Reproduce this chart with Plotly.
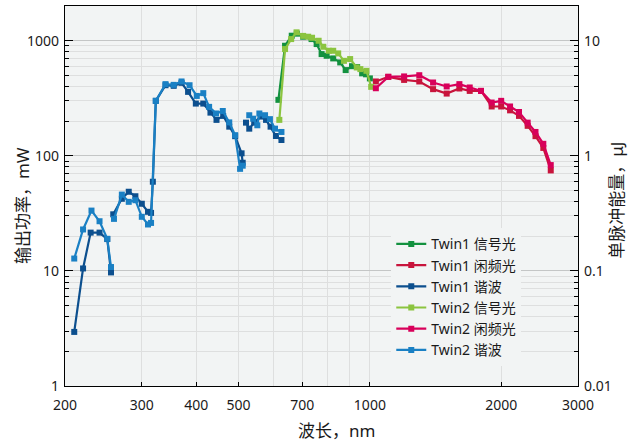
import plotly.graph_objects as go
import math

# ---- data (wavelength nm, power mW) ----
t1_sig_x = [617, 639, 662, 680, 703, 735, 755, 775, 796, 824, 855, 880, 910, 935, 960, 980, 1000]
t1_sig_y = [306, 903, 1104, 1150, 1082, 1032, 934, 764, 739, 701, 647, 555, 600, 590, 520, 510, 470]

t2_sig_x = [620, 639, 660, 679, 703, 722, 737, 763, 782, 805, 824, 846, 872, 901, 933, 951, 982, 1007]
t2_sig_y = [205, 845, 1032, 1181, 1100, 1082, 1060, 998, 885, 817, 817, 775, 668, 692, 585, 566, 547, 397]

idl_x = [1032, 1102, 1198, 1298, 1396, 1500, 1604, 1694, 1798, 1902, 2000, 2096, 2197, 2300, 2397, 2498, 2598]
t1_idl_y = [442, 485, 456, 442, 379, 347, 384, 366, 366, 268, 268, 248, 222, 182, 148, 117, 74.6]
t2_idl_y = [386, 485, 489, 501, 433, 400, 419, 392, 366, 290, 300, 268, 240, 194, 161, 127, 83]

t1_har_x = [210, 220, 229, 240, 250, 255, None,
            258, 270, 280, 290, 300, 310, 315, 318, 323, 340, 355, 370, 383, 399, 415, 431, 445, 461, 476, 491, 508, 511, None,
            520, 529, 543, 562, 578, 592, 609, 627]
t1_har_y = [2.95, 10.5, 21.5, 21.5, 18.9, 9.7, None,
            31, 42.3, 48.7, 44.5, 38.3, 32.6, 31.9, 59.5, 300, 410, 405, 430, 359, 284, 284, 237, 205, 222, 179, 148, 105, 87, None,
            194, 172, 194, 219, 205, 179, 148.5, 137]

t2_har_x = [210, 220, 230, 240, 250, 255, None,
            259, 270, 280, 290, 300, 310, 315, 323, 340, 355, 370, 386, 401, 415, 428, 444, 460, 476, 491, 504, 511, None,
            529, 540, 552, 558, 575, 590, 606, 627]
t2_har_y = [12.8, 22.9, 33.4, 27, 19, 10.8, None,
            28.3, 46, 39.8, 41.1, 29.5, 25.3, 26.1, 300, 419, 413, 442, 410, 331, 350, 266, 233, 245, 195, 151, 77, 82, None,
            225, 210, 184, 233, 225, 208, 172, 161]

names = ["Twin1 信号光", "Twin1 闲频光", "Twin1 谐波", "Twin2 信号光", "Twin2 闲频光", "Twin2 谐波"]
colors = ["#13913f", "#c8143c", "#0c4f8e", "#8bc43f", "#d8005a", "#1a80c4"]

x_tickvals = [200, 300, 400, 500, 700, 1000, 2000, 3000]
x_ticktext = ["200", "300", "400", "500", "700", "1000", "2000", "3000"]
x_minor = [600, 800, 900]
y_tickvals = [1, 10, 100, 1000]
y_ticktext = ["1", "10", "100", "1000"]
y_minor = [m * d for d in [1, 10, 100, 1000] for m in range(2, 10)]
y2_tickvals = [0.01, 0.1, 1, 10]
y2_ticktext = ["0.01", "0.1", "1", "10"]
y2_minor = [m * d for d in [0.01, 0.1, 1, 10] for m in range(2, 10)]

series = [(t1_sig_x, t1_sig_y), (idl_x, t1_idl_y), (t1_har_x, t1_har_y),
          (t2_sig_x, t2_sig_y), (idl_x, t2_idl_y), (t2_har_x, t2_har_y)]

fig = go.Figure()
for (xs, ys), n, c in zip(series, names, colors):
    fig.add_trace(go.Scatter(x=xs, y=ys, name=n, mode="lines+markers",
                             line=dict(color=c, width=2.2),
                             marker=dict(symbol="square", size=6, color=c),
                             connectgaps=False))
# empty trace so the right-hand energy axis is drawn
fig.add_trace(go.Scatter(x=[], y=[], yaxis="y2", showlegend=False, hoverinfo="skip"))

font_main = "Noto Sans, Noto Sans CJK SC, sans-serif"
grid_minor = "#dedfdf"
grid_major = "#c4c6c6"

fig.update_layout(
    width=635, height=445,
    margin=dict(l=65, r=57, t=6, b=59),
    paper_bgcolor="white", plot_bgcolor="#f2f4f4",
    font=dict(family=font_main, size=14, color="#1a1a1a"),
    showlegend=True,
    legend=dict(x=0.636, y=0.415, xanchor="left", yanchor="top",
                bgcolor="#f2f4f4", borderwidth=0, font=dict(size=14),
                tracegroupgap=0, itemwidth=30),
    xaxis=dict(type="log", range=[math.log10(200), math.log10(3000)],
               tickvals=x_tickvals, ticktext=x_ticktext,
               showgrid=True, gridcolor=grid_minor, gridwidth=1,
               ticks="inside", ticklen=4, tickcolor="black",
               showline=True, linecolor="black", linewidth=1.2, mirror=True,
               minor=dict(tickvals=x_minor, showgrid=True, gridcolor=grid_minor, ticks=""),
               ticklabelstandoff=6, zeroline=False),
    yaxis=dict(type="log", range=[0, math.log10(2000)],
               tickvals=y_tickvals, ticktext=y_ticktext,
               showgrid=True, gridcolor=grid_major, gridwidth=1,
               ticks="inside", ticklen=8, tickcolor="black",
               showline=True, linecolor="black", linewidth=1.2, mirror=False,
               minor=dict(tickvals=y_minor, showgrid=True, gridcolor=grid_minor,
                          ticks="inside", ticklen=4, tickcolor="black"),
               ticklabelstandoff=2, zeroline=False),
    yaxis2=dict(type="log", range=[-2, math.log10(20)], overlaying="y", side="right",
                tickvals=y2_tickvals, ticktext=y2_ticktext,
                showgrid=False, ticks="inside", ticklen=8, tickcolor="black",
                showline=True, linecolor="black", linewidth=1.2,
                minor=dict(tickvals=y2_minor, ticks="inside", ticklen=4, tickcolor="black", showgrid=False),
                ticklabelstandoff=2, zeroline=False),
    annotations=[
        dict(text="波长，nm", xref="paper", yref="paper", x=0.53, y=-0.116,
             xanchor="center", yanchor="middle", showarrow=False, font=dict(size=17)),
        dict(text="输出功率，mW", xref="paper", yref="paper", x=-0.084, y=0.476,
             xanchor="center", yanchor="middle", showarrow=False, textangle=-90, font=dict(size=17)),
        dict(text="单脉冲能量，μJ", xref="paper", yref="paper", x=1.076, y=0.49,
             xanchor="center", yanchor="middle", showarrow=False, textangle=-90, font=dict(size=17)),
    ],
)
fig.write_html("out.html", config={"displayModeBar": False},
               post_script="document.body.style.margin='0px';")
